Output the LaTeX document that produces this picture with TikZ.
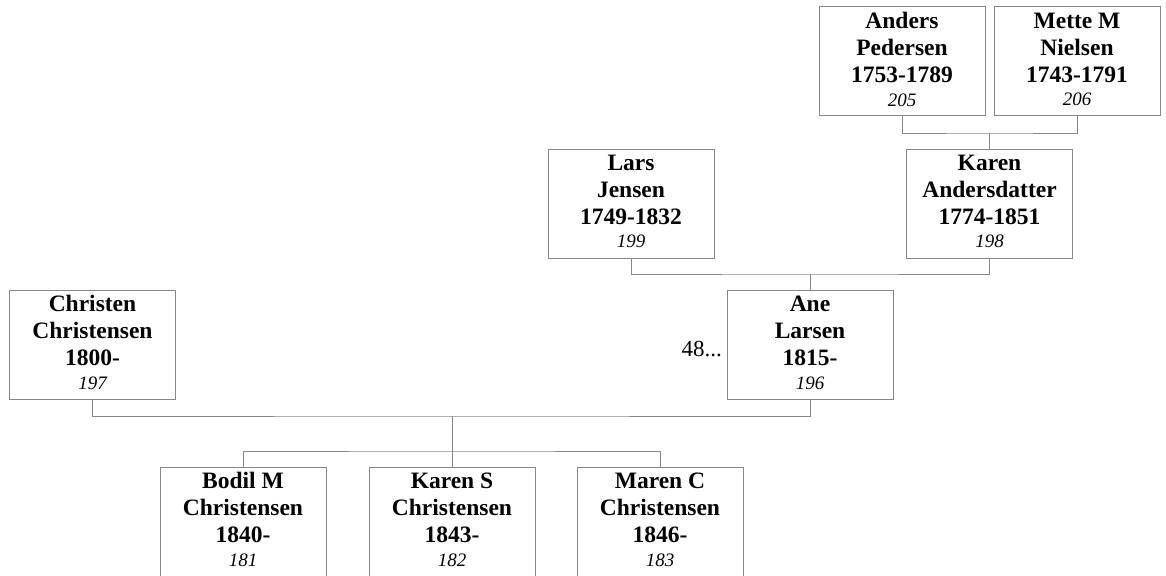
\documentclass[tikz,border=0pt]{standalone}
\usepackage{fontspec}
\setmainfont{Liberation Serif}
\definecolor{linegray}{RGB}{135,135,135}
\newcommand\pidno[1]{{\mdseries\itshape\fontsize{19}{22}\selectfont #1}}
\begin{document}
\begin{tikzpicture}[x=1pt,y=-1pt,
  box/.style={draw=linegray, line width=1pt, minimum width=166pt, minimum height=109pt,
    inner sep=0pt, align=center, text depth=4pt, fill=white,
    font=\fontsize{23.5}{27}\selectfont\bfseries},
  conn/.style={draw=linegray, line width=1pt},
  note/.style={font=\fontsize{23}{26}\selectfont, inner sep=0pt}]
\useasboundingbox (0,0) rectangle (1166,575);

\node[box] (anders)   at (902,61.5)    {Anders\\Pedersen\\1753-1789\\[-3.5pt]\pidno{205}};
\node[box] (mette)    at (1077,61.5)   {Mette M\\Nielsen\\1743-1791\\[-3.5pt]\pidno{206}};
\node[box] (karenA)   at (989.5,203.5) {Karen\\Andersdatter\\1774-1851\\[-3.5pt]\pidno{198}};
\node[box] (lars)     at (631,203.5)   {Lars\\Jensen\\1749-1832\\[-3.5pt]\pidno{199}};
\node[box] (ane)      at (810,344.5)   {Ane\\Larsen\\1815-\\[-3.5pt]\pidno{196}};
\node[box] (christen) at (92.5,344.5)  {Christen\\Christensen\\1800-\\[-3.5pt]\pidno{197}};
\node[box] (bodil)    at (243,521.5)   {Bodil M\\Christensen\\1840-\\[-3.5pt]\pidno{181}};
\node[box] (karenS)   at (452,521.5)   {Karen S\\Christensen\\1843-\\[-3.5pt]\pidno{182}};
\node[box] (maren)    at (660,521.5)   {Maren C\\Christensen\\1846-\\[-3.5pt]\pidno{183}};

\node[note, anchor=base east] (more) at (722,356) {48...};

\coordinate (j1) at (989.5,133);
\coordinate (j2) at (810,274);
\coordinate (j3) at (452,416);
\coordinate (j4) at (452,451);

\draw[conn] (anders.south) |- (j1) -| (mette.south);
\draw[conn] (j1) -- (karenA.north);
\draw[conn] (lars.south) |- (j2) -| (karenA.south);
\draw[conn] (j2) -- (ane.north);
\draw[conn] (christen.south) |- (j3) -| (ane.south);
\draw[conn] (j3) -- (j4);
\draw[conn] (bodil.north) |- (j4) -| (maren.north);
\draw[conn] (j4) -- (karenS.north);
\end{tikzpicture}
\end{document}
